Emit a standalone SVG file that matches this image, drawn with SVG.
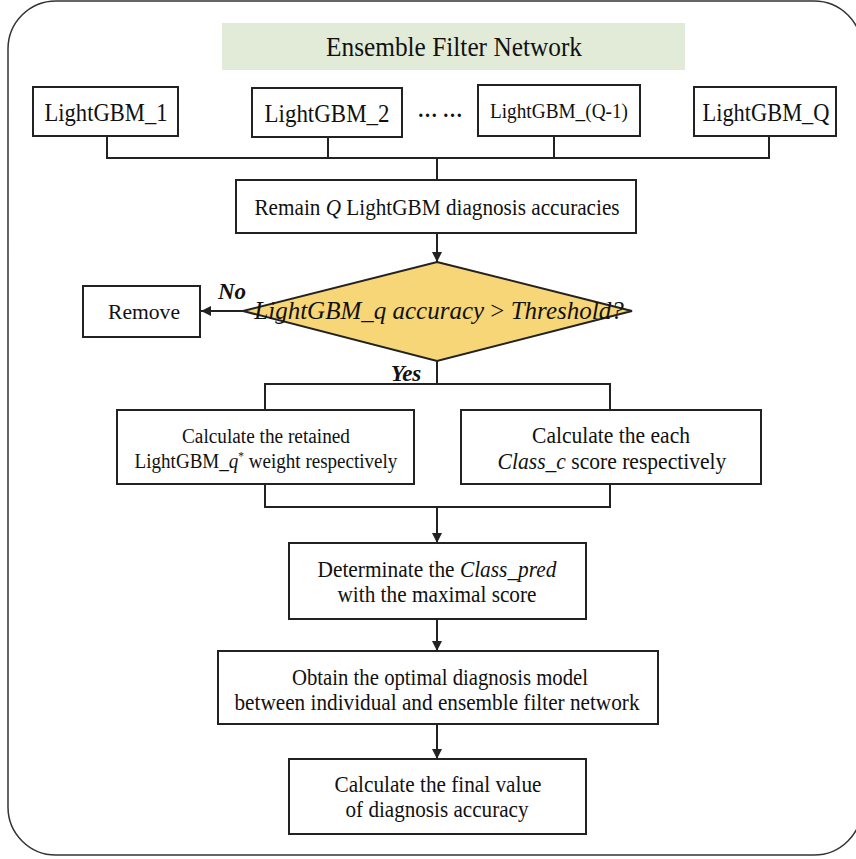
<svg xmlns="http://www.w3.org/2000/svg" width="856" height="859" viewBox="0 0 856 859">
<style>
  text { font-family: "Liberation Serif", "Times New Roman", serif; fill: #111; text-anchor: middle; }
  .box { fill: #fff; stroke: #222; stroke-width: 2; }
  .conn { fill: none; stroke: #222; stroke-width: 2; }
  .it { font-style: italic; }
  .lbl { font-style: italic; font-weight: bold; font-size: 23px; }
</style>
<defs>
  <marker id="arr" viewBox="0 0 10 10" refX="10" refY="5" markerWidth="10" markerHeight="10" markerUnits="userSpaceOnUse" orient="auto">
    <path d="M0,0 L10,5 L0,10 z" fill="#222"/>
  </marker>
</defs>
<rect x="8" y="1" width="854" height="854" rx="48" ry="48" fill="#fff" stroke="#333" stroke-width="1.5"/>

<g id="title">
  <rect x="222" y="23" width="463" height="47" fill="#e2ebd8"/>
  <text x="454" y="56" font-size="27" textLength="256" lengthAdjust="spacingAndGlyphs">Ensemble Filter Network</text>
</g>

<g id="connectors">
  <path class="conn" d="M107,136 V158 H769 V136 M328,137 V158 M554,136 V158"/>
  <path class="conn" d="M437,158 V180"/>
  <path class="conn" d="M437,233 V262" marker-end="url(#arr)"/>
  <path class="conn" d="M243,311 H201" marker-end="url(#arr)"/>
  <path class="conn" d="M437,361 V384 M265,410 V384 H610 V410"/>
  <path class="conn" d="M265,484 V507 H610 V484"/>
  <path class="conn" d="M437,507 V543" marker-end="url(#arr)"/>
  <path class="conn" d="M437,619 V651" marker-end="url(#arr)"/>
  <path class="conn" d="M437,724 V759" marker-end="url(#arr)"/>
  <text class="lbl" x="232" y="299">No</text>
  <text class="lbl" x="406" y="381">Yes</text>
</g>

<g id="lgbm1">
  <rect class="box" x="33" y="87" width="145" height="49"/>
  <text x="106" y="121" font-size="25" textLength="123" lengthAdjust="spacingAndGlyphs">LightGBM_1</text>
</g>
<g id="lgbm2">
  <rect class="box" x="252" y="88" width="150" height="49"/>
  <text x="327" y="122" font-size="25" textLength="125" lengthAdjust="spacingAndGlyphs">LightGBM_2</text>
</g>
<g id="dots">
  <text x="440" y="117" font-size="20" font-weight="bold">… …</text>
</g>
<g id="lgbmQ1">
  <rect class="box" x="478" y="85" width="162" height="51"/>
  <text x="559" y="118" font-size="20" textLength="138" lengthAdjust="spacingAndGlyphs">LightGBM_(Q-1)</text>
</g>
<g id="lgbmQ">
  <rect class="box" x="694" y="87" width="142" height="49"/>
  <text x="766" y="121" font-size="25" textLength="127" lengthAdjust="spacingAndGlyphs">LightGBM_Q</text>
</g>

<g id="remain">
  <rect class="box" x="236" y="180" width="400" height="53"/>
  <text x="437" y="215" font-size="24" transform="matrix(0.884 0 0 1 50.7 0)">Remain <tspan class="it">Q</tspan> LightGBM diagnosis accuracies</text>
</g>

<g id="decision">
  <polygon points="437,262 632,311 437,361 243,311" fill="#f6d677" stroke="#222" stroke-width="2"/>
  <text x="439" y="319" font-size="25"><tspan class="it">LightGBM_q accuracy </tspan>&gt;<tspan class="it"> Threshold?</tspan></text>
</g>

<g id="remove">
  <rect class="box" x="83" y="286" width="117" height="51"/>
  <text x="144" y="319" font-size="22" textLength="72" lengthAdjust="spacingAndGlyphs">Remove</text>
</g>

<g id="weight">
  <rect class="box" x="117" y="410" width="297" height="74"/>
  <text x="266" y="443" font-size="20" textLength="168" lengthAdjust="spacingAndGlyphs">Calculate the retained</text>
  <text x="266" y="468" font-size="20" transform="matrix(0.953 0 0 1 12.5 0)">LightGBM_<tspan class="it">q</tspan><tspan dy="-8" font-size="12">*</tspan><tspan dy="8"> weight respectively</tspan></text>
</g>

<g id="score">
  <rect class="box" x="461" y="410" width="300" height="74"/>
  <text x="611" y="443" font-size="23" textLength="158" lengthAdjust="spacingAndGlyphs">Calculate the each</text>
  <text x="612" y="469" font-size="23" transform="matrix(0.938 0 0 1 37.9 0)"><tspan class="it">Class_c</tspan> score respectively</text>
</g>

<g id="determinate">
  <rect class="box" x="289" y="543" width="297" height="76"/>
  <text x="437" y="577" font-size="23" transform="matrix(0.93 0 0 1 30.6 0)">Determinate the <tspan class="it">Class_pred</tspan></text>
  <text x="437" y="602" font-size="23" textLength="199" lengthAdjust="spacingAndGlyphs">with the maximal score</text>
</g>

<g id="obtain">
  <rect class="box" x="218" y="651" width="440" height="73"/>
  <text x="440" y="685" font-size="23" textLength="296" lengthAdjust="spacingAndGlyphs">Obtain the optimal diagnosis model</text>
  <text x="437" y="710" font-size="23" textLength="405" lengthAdjust="spacingAndGlyphs">between individual and ensemble filter network</text>
</g>

<g id="final">
  <rect class="box" x="289" y="759" width="297" height="75"/>
  <text x="438" y="792" font-size="23" textLength="207" lengthAdjust="spacingAndGlyphs">Calculate the final value</text>
  <text x="437" y="817" font-size="23" textLength="183" lengthAdjust="spacingAndGlyphs">of diagnosis accuracy</text>
</g>
</svg>
